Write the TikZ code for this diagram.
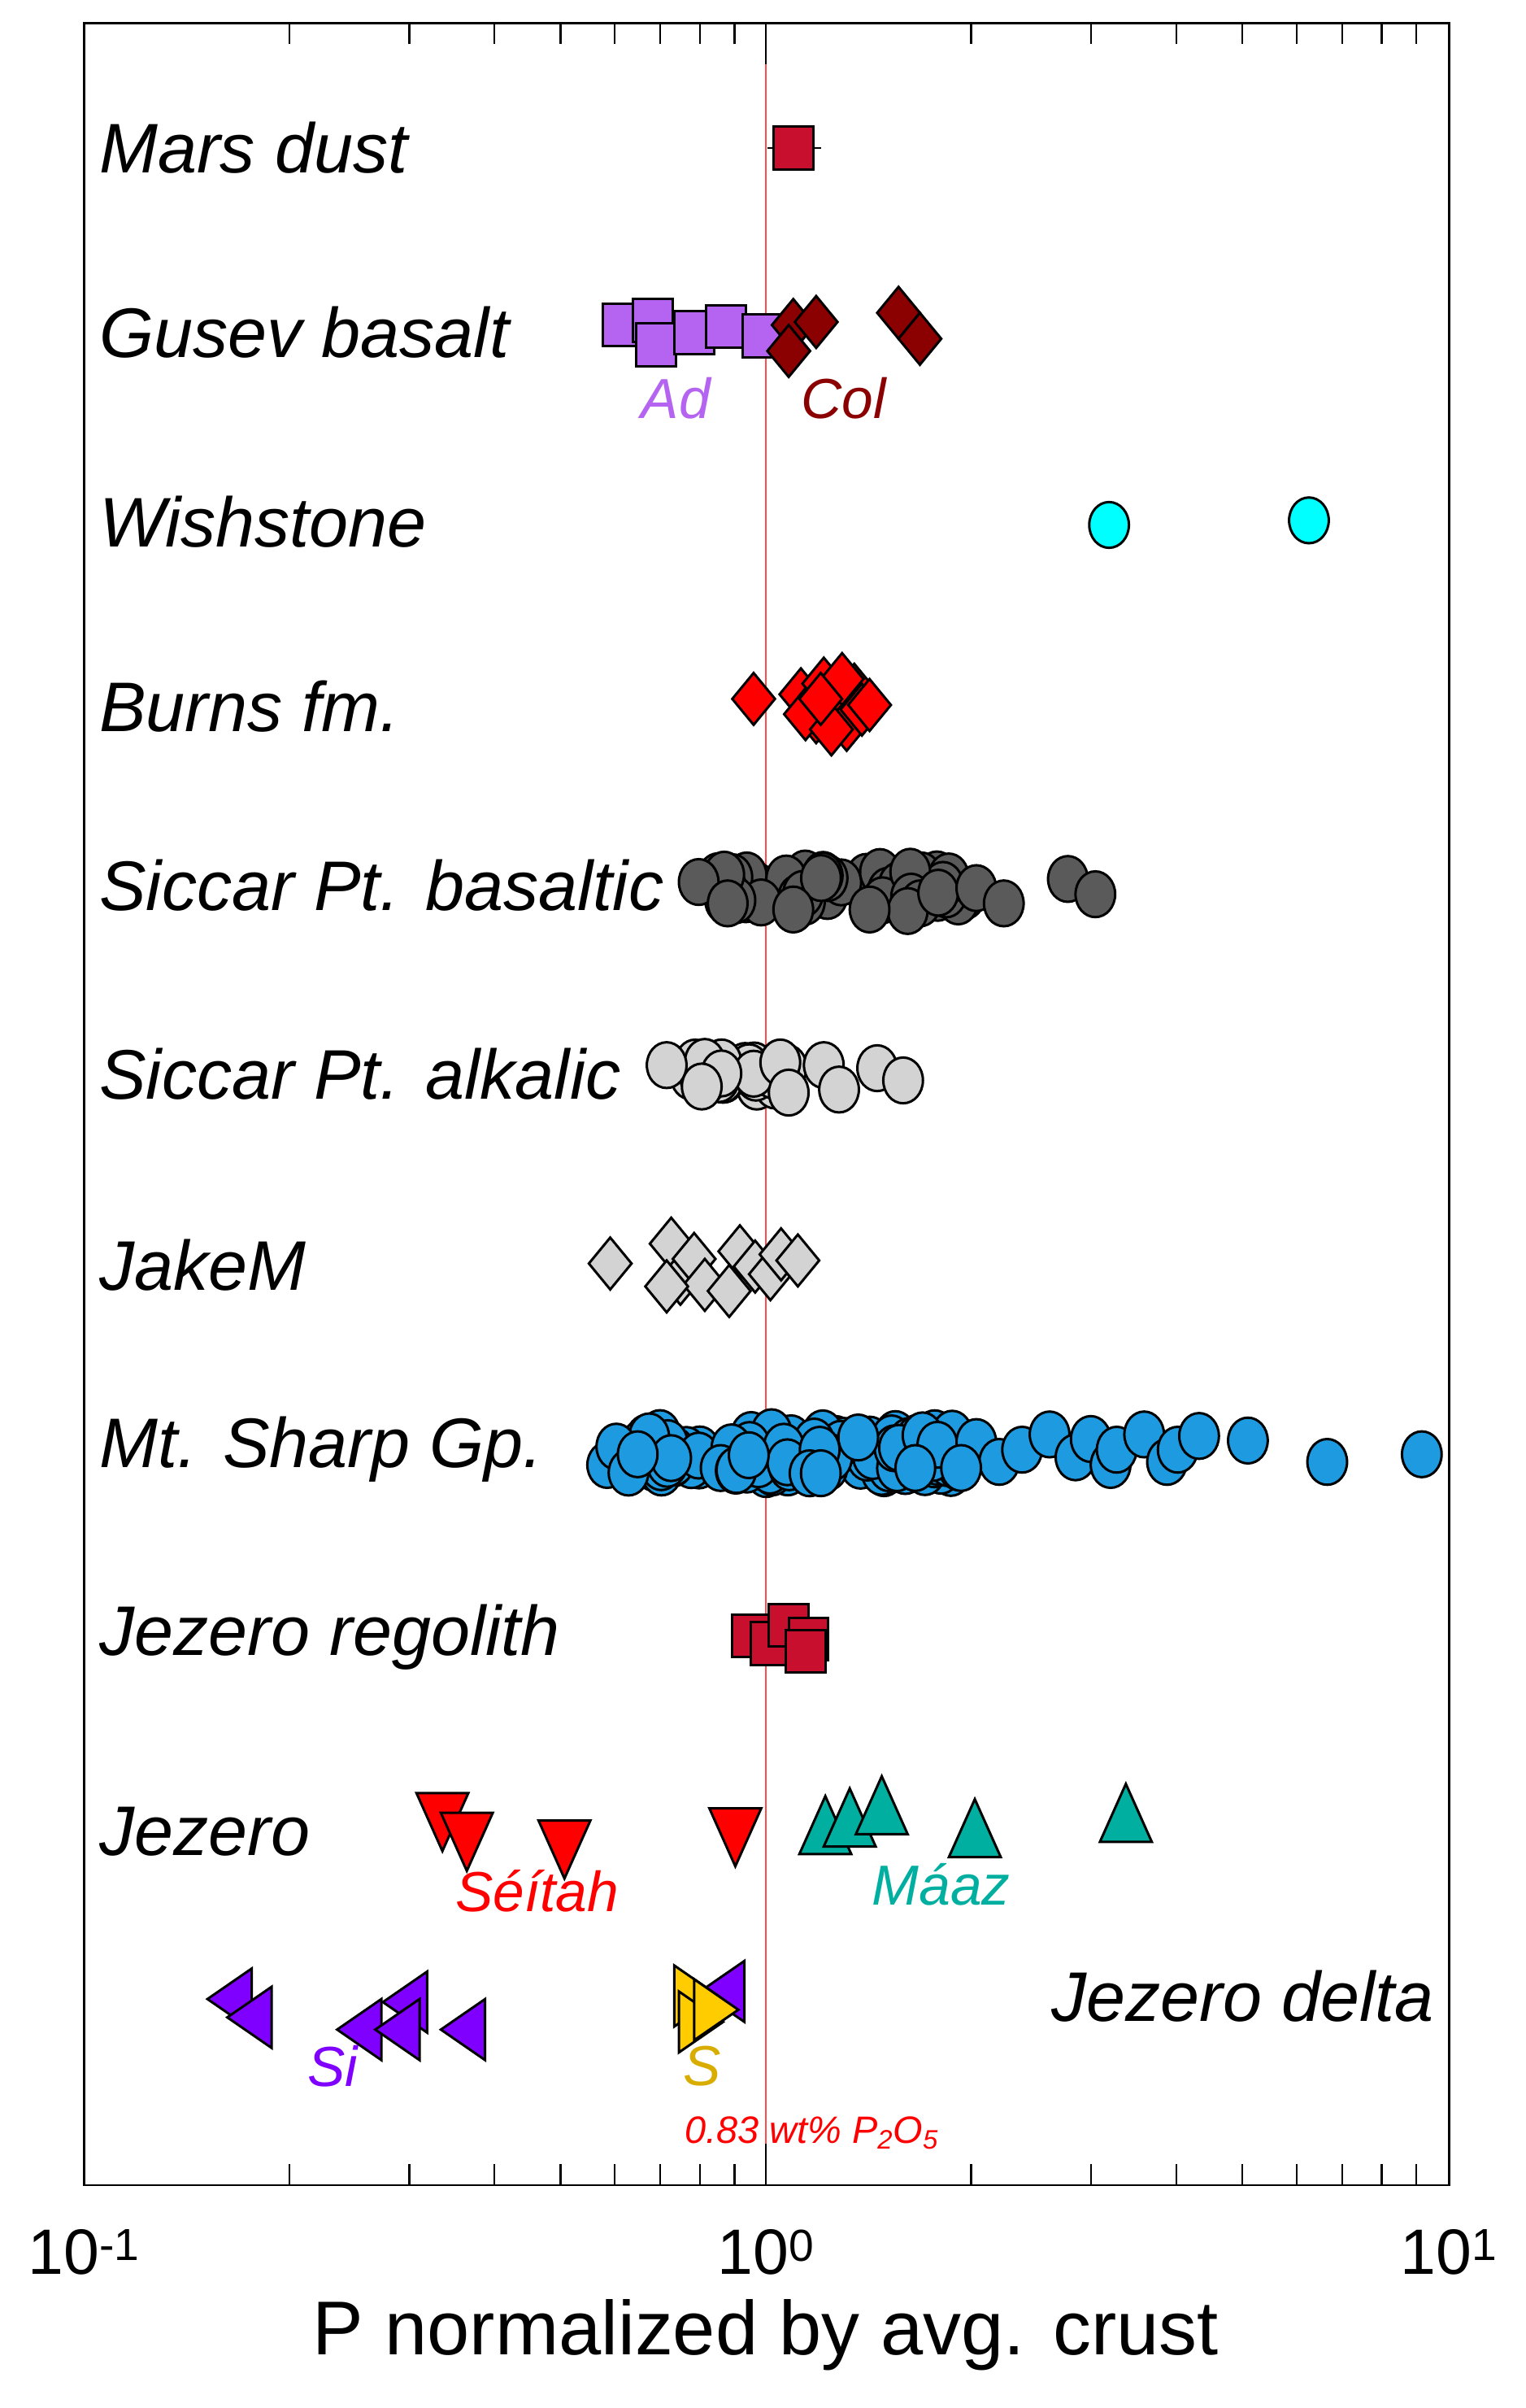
\documentclass[tikz,border=0pt]{standalone}
\usepackage{fontspec}
\setmainfont{Liberation Sans}
\definecolor{crim}{HTML}{C8102E}
\definecolor{purl}{HTML}{B464F0}
\definecolor{dred}{HTML}{8B0000}
\definecolor{cyn}{HTML}{00FFFF}
\definecolor{dgr}{HTML}{5A5A5A}
\definecolor{lgr}{HTML}{D3D3D3}
\definecolor{blu}{HTML}{1E9BE0}
\definecolor{tea}{HTML}{00AFA0}
\definecolor{vio}{HTML}{7F00FF}
\definecolor{gld}{HTML}{FFCC00}
\newcommand\mC[3]{\filldraw[fill=#1,draw=black,line width=1.6pt] (#2,#3) ellipse (13pt and 15pt);}
\newcommand\mS[3]{\filldraw[fill=#1,draw=black,line width=1.6pt] (#2-13,#3-14) rectangle (#2+13,#3+14);}
\newcommand\mD[3]{\filldraw[fill=#1,draw=black,line width=1.6pt] (#2-14,#3)--(#2,#3-17)--(#2+14,#3)--(#2,#3+17)--cycle;}
\newcommand\mTd[3]{\filldraw[fill=#1,draw=black,line width=1.6pt] (#2-17,#3-15)--(#2+17,#3-15)--(#2,#3+23)--cycle;}
\newcommand\mTu[3]{\filldraw[fill=#1,draw=black,line width=1.6pt] (#2-17,#3+15)--(#2+17,#3+15)--(#2,#3-23)--cycle;}
\newcommand\mTl[3]{\filldraw[fill=#1,draw=black,line width=1.6pt] (#2+10,#3-20)--(#2+10,#3+20)--(#2-19,#3)--cycle;}
\newcommand\mTr[3]{\filldraw[fill=#1,draw=black,line width=1.6pt] (#2-10,#3-20)--(#2-10,#3+20)--(#2+19,#3)--cycle;}
\begin{document}
\begin{tikzpicture}[x=1pt,y=-1pt,
  lab/.style={font=\fontsize{46}{46}\selectfont\itshape,anchor=west,inner sep=0},
  sub/.style={font=\fontsize{37}{37}\selectfont\itshape,inner sep=0},
  tk/.style={font=\fontsize{42}{42}\selectfont,inner sep=0}]
\useasboundingbox[fill=white] (0,0) rectangle (1000,1578);
% ref line
\draw[red!70,line width=1pt] (502,15) -- (502,1432);
% ticks
\foreach \d in {0,1}{
  \foreach \m in {2,...,9}{
    \pgfmathsetmacro\tx{55+447*\d+447*log10(\m)}
    \draw[line width=1.2pt] (\tx,1432) -- (\tx,1418);
    \draw[line width=1.2pt] (\tx,15) -- (\tx,29);
  }}
\draw[line width=1.2pt] (502,1432) -- (502,1405);
\draw[line width=1.2pt] (502,15) -- (502,42);
% labels
\node[lab] (l1) at (65,97) {Mars dust};
\node[lab] (l2) at (65,218) {Gusev basalt};
\node[lab] (l3) at (65,342) {Wishstone};
\node[lab] (l4) at (65,463) {Burns fm.};
\node[lab] (l5) at (65,580) {Siccar Pt. basaltic};
\node[lab] (l6) at (65,704) {Siccar Pt. alkalic};
\node[lab] (l7) at (65,829) {JakeM};
\node[lab] (l8) at (65,950) {Mt. Sharp Gp.};
\node[lab] (l9) at (65,1073) {Jezero regolith};
\node[lab] (l10) at (65,1200) {Jezero};
\node[lab,anchor=east] (l11) at (940,1308) {Jezero delta};
% Mars dust
\draw[line width=1.5pt] (503,97) -- (538,97);
\mS{crim}{520}{97}
% Gusev
\foreach \x/\y in {408/213,428/210,430/226,455/218,476/214,500/220}{\mS{purl}{\x}{\y}}
\foreach \x/\y in {520/213,535/211,517/230,589/205,603/222}{\mD{dred}{\x}{\y}}
\node[sub,text=purl] (ad) at (443,261) {Ad};
\node[sub,text=dred] (col) at (553,261) {Col};
% Wishstone
\mC{cyn}{727}{344}\mC{cyn}{858}{341}
% Burns
\mD{red}{494}{458}
\foreach \x/\y in {525/455,535/470,540/448,548/460,555/475,560/452,565/465,528/468,545/478,552/445,570/462,538/458}{\mD{red}{\x}{\y}}
% Siccar basaltic
\pgfmathsetseed{7}
\foreach \i in {1,...,45}{
  \pgfmathsetmacro\xx{470+rnd*165}\pgfmathsetmacro\yy{570+rnd*22}
  \mC{dgr}{\xx}{\yy}}
\foreach \x/\y in {458/578,477/592,595/597,615/585,640/582,658/592,700/576,718/586,570/596,520/596}{\mC{dgr}{\x}{\y}}
% Siccar alkalic
\pgfmathsetseed{11}
\foreach \i in {1,...,25}{
  \pgfmathsetmacro\xx{450+rnd*70}\pgfmathsetmacro\yy{695+rnd*18}
  \mC{lgr}{\xx}{\yy}}
\foreach \x/\y in {437/698,460/712,517/716,540/698,550/714,575/700,592/708}{\mC{lgr}{\x}{\y}}
% JakeM
\foreach \x/\y in {400/828,440/815,446/838,455/825,462/842,478/846,485/820,495/830,505/835,512/822,523/826,437/843}{\mD{lgr}{\x}{\y}}
% Mt Sharp
\pgfmathsetseed{3}
\foreach \i in {1,...,120}{
  \pgfmathsetmacro\xx{420+rnd*210}\pgfmathsetmacro\yy{938+rnd*28}
  \mC{blu}{\xx}{\yy}}
\foreach \x/\y in {398/960,404/948,412/965,418/953,640/945,655/958,670/950,688/940,705/955,715/943,728/960,732/950,750/940,765/958,772/950,786/941,818/944,870/958,932/953,600/962,630/962}{\mC{blu}{\x}{\y}}
% Jezero regolith
\foreach \x/\y in {493/1072,505/1077,517/1065,530/1074,528/1082}{\mS{crim}{\x}{\y}}
% Jezero
\foreach \x/\y in {290/1190,306/1203,370/1208,482/1200}{\mTd{red}{\x}{\y}}
\foreach \x/\y in {541/1200,557/1195,578/1187,639/1202,738/1192}{\mTu{tea}{\x}{\y}}
\node[sub,text=red] (se) at (352,1239) {Séítah};
\node[sub,text=tea] (ma) at (617,1235) {Máaz};
% delta
\foreach \x/\y in {155/1310,168/1322,240/1330,270/1312,265/1330,308/1330,478/1305}{\mTl{vio}{\x}{\y}}
\foreach \x/\y in {452/1308,455/1325,465/1317}{\mTr{gld}{\x}{\y}}
\node[sub,text=vio] (si) at (218,1354) {Si};
\node[sub,text=gld!85!black] (ss) at (460,1354) {S};
\node[font=\fontsize{25}{25}\selectfont\itshape,text=red,inner sep=0] (pp) at (532,1398) {0.83 wt\% P\textsubscript{2}O\textsubscript{5}};
% frame
\draw[line width=1.5pt] (55,15) rectangle (950,1432);
% tick labels
\node[tk] (t1) at (55,1476) {10\textsuperscript{-1}};
\node[tk] (t2) at (502,1476) {10\textsuperscript{0}};
\node[tk] (t3) at (950,1476) {10\textsuperscript{1}};
\node[font=\fontsize{50}{50}\selectfont,inner sep=0] (ax) at (502,1530) {P normalized by avg. crust};
\end{tikzpicture}
\end{document}
